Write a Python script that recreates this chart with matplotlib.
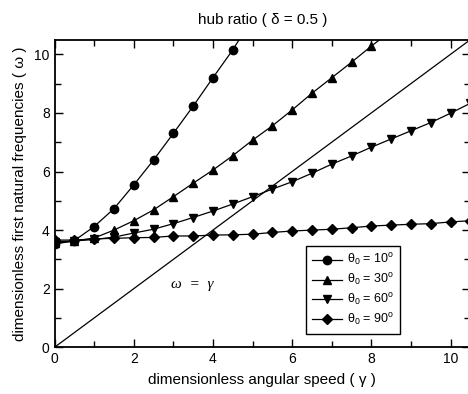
import matplotlib
matplotlib.use("Agg")
import matplotlib.pyplot as plt
import numpy as np
from matplotlib.ticker import MultipleLocator

plt.rcParams['font.family'] = ['Liberation Sans', 'DejaVu Sans']
plt.rcParams['mathtext.fontset'] = 'custom'
plt.rcParams['mathtext.rm'] = 'Liberation Sans'
plt.rcParams['mathtext.it'] = 'Liberation Sans:italic'

# data
gamma10 = [0, 0.5, 1.0, 1.5, 2.0, 2.5, 3.0, 3.5, 4.0, 4.5, 4.8]
omega10 = [3.52, 3.64, 4.12, 4.73, 5.54, 6.39, 7.3, 8.23, 9.2, 10.15, 10.8]
gamma30 = [0, 0.5, 1.0, 1.5, 2.0, 2.5, 3.0, 3.5, 4.0, 4.5, 5.0, 5.5, 6.0, 6.5, 7.0, 7.5, 8.0, 8.5]
omega30 = [3.56, 3.62, 3.73, 4.0, 4.32, 4.69, 5.14, 5.6, 6.05, 6.54, 7.07, 7.56, 8.1, 8.67, 9.2, 9.73, 10.28, 10.8]
gamma60 = [0, 0.5, 1.0, 1.5, 2.0, 2.5, 3.0, 3.5, 4.0, 4.5, 5.0, 5.5, 6.0, 6.5, 7.0, 7.5, 8.0, 8.5, 9.0, 9.5, 10.0, 10.5]
omega60 = [3.6, 3.63, 3.68, 3.76, 3.9, 4.03, 4.22, 4.43, 4.65, 4.89, 5.14, 5.4, 5.65, 5.94, 6.25, 6.53, 6.83, 7.11, 7.39, 7.67, 7.99, 8.33]
gamma90 = [0, 0.5, 1.0, 1.5, 2.0, 2.5, 3.0, 3.5, 4.0, 4.5, 5.0, 5.5, 6.0, 6.5, 7.0, 7.5, 8.0, 8.5, 9.0, 9.5, 10.0, 10.5]
omega90 = [3.66, 3.66, 3.7, 3.72, 3.74, 3.75, 3.8, 3.8, 3.83, 3.84, 3.86, 3.92, 3.97, 4.0, 4.03, 4.08, 4.14, 4.17, 4.2, 4.22, 4.28, 4.32]
line_gamma = [0, 10.5]
line_omega = [0, 10.5]

labels = [r'$\mathrm{θ}_0$ = 10$^\mathrm{o}$', r'$\mathrm{θ}_0$ = 30$^\mathrm{o}$',
          r'$\mathrm{θ}_0$ = 60$^\mathrm{o}$', r'$\mathrm{θ}_0$ = 90$^\mathrm{o}$']

fig = plt.figure(figsize=(4.68, 3.94), dpi=100)
ax = fig.add_axes([54.5/468, (394-347.3)/394, (470.3-54.5)/468, (347.3-39.7)/394])

ms = 6
ax.plot(line_gamma, line_omega, color='black', lw=0.9)
ax.plot(gamma10, omega10, color='black', lw=0.9, marker='o', ms=ms, markevery=range(10), label=labels[0])
ax.plot(gamma30, omega30, color='black', lw=0.9, marker='^', ms=ms, markevery=range(17), label=labels[1])
ax.plot(gamma60, omega60, color='black', lw=0.9, marker='v', ms=ms, label=labels[2])
ax.plot(gamma90, omega90, color='black', lw=0.9, marker='D', ms=5, label=labels[3])

ax.set_xlim(0, 10.5)
ax.set_ylim(0, 10.5)
ax.xaxis.set_major_locator(MultipleLocator(2))
ax.xaxis.set_minor_locator(MultipleLocator(1))
ax.yaxis.set_major_locator(MultipleLocator(2))
ax.yaxis.set_minor_locator(MultipleLocator(1))
ax.tick_params(which='both', direction='in', top=True, right=True, width=1, labelsize=10)
ax.tick_params(which='major', length=6)
ax.tick_params(which='minor', length=4)
for s in ax.spines.values():
    s.set_linewidth(1.3)

ax.text(3.48, 2.13, 'ω  =  γ', fontsize=11, style='italic', family=['Liberation Serif'],
        ha='center', va='center')

ax.set_xlabel('dimensionless angular speed ( γ )', fontsize=11, labelpad=5)
ax.set_ylabel('dimensionless first natural frequencies ( ω )', fontsize=11, labelpad=5)
ax.set_title('hub ratio ( δ = 0.5 )', fontsize=11, pad=11)

leg = ax.legend(loc='lower left', bbox_to_anchor=(0.605, 0.043), borderaxespad=0,
                fontsize=9, fancybox=False, edgecolor='black', framealpha=1,
                handlelength=2.4, handletextpad=0.35, labelspacing=0.3, borderpad=0.5)
leg.get_frame().set_linewidth(1.0)

fig.savefig('out.png', dpi=100)
